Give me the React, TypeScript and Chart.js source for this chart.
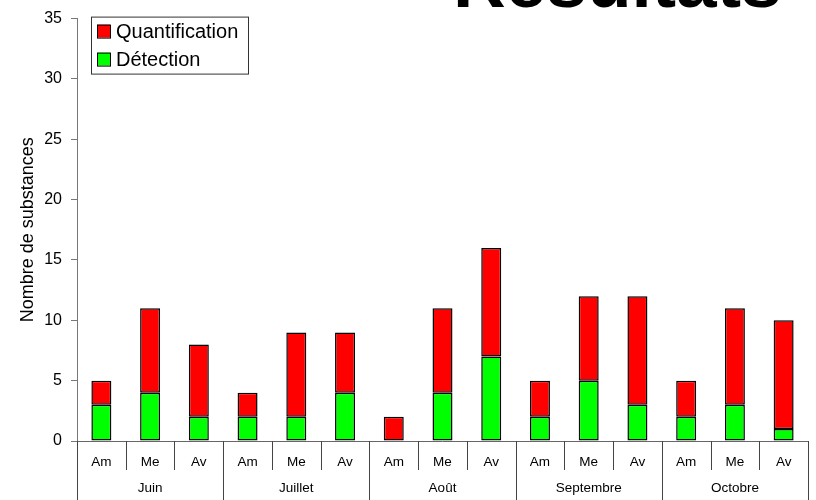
import React, { useEffect, useRef } from "react";
import { Chart, registerables } from "chart.js";

Chart.register(...registerables);

const months = ["Juin", "Juillet", "Août", "Septembre", "Octobre"];
const periods = ["Am", "Me", "Av"];
const categories = months.flatMap((m) => periods.map((p) => `${m} ${p}`));
const detection = [3, 4, 2, 2, 2, 4, 0, 4, 7, 2, 5, 3, 2, 3, 1];
const quantification = [2, 7, 6, 2, 7, 5, 2, 7, 9, 3, 7, 9, 3, 8, 9];
const yTicksMax = 35;
const yStep = 5;
const titleText = "Résultats";
const yTitle = "Nombre de substances";

const FONT = "'Liberation Sans', Arial, Helvetica, sans-serif";

const customPlugin = {
  id: "customDraw",
  afterDraw(chart: any) {
    const ctx = chart.ctx as CanvasRenderingContext2D;
    const xs = chart.scales.x;
    const area = chart.chartArea;
    const n = categories.length;
    const H = chart.height;
    const bound = (i: number) => {
      if (i <= 0) return area.left;
      if (i >= n) return area.right;
      return (xs.getPixelForValue(i - 1) + xs.getPixelForValue(i)) / 2;
    };
    ctx.save();
    // x axis line
    ctx.strokeStyle = "#666";
    ctx.lineWidth = 1;
    ctx.beginPath();
    ctx.moveTo(area.left, Math.round(area.bottom) + 0.5);
    ctx.lineTo(area.right, Math.round(area.bottom) + 0.5);
    ctx.stroke();
    // separators
    for (let i = 0; i <= n; i++) {
      const x = Math.round(bound(i)) + 0.5;
      const isMonth = i % periods.length === 0;
      ctx.strokeStyle = "#444";
      ctx.beginPath();
      ctx.moveTo(x, area.bottom);
      ctx.lineTo(x, isMonth ? H : area.bottom + 29);
      ctx.stroke();
    }
    // sub labels
    ctx.fillStyle = "#000";
    ctx.textAlign = "center";
    ctx.textBaseline = "middle";
    ctx.font = `13.5px ${FONT}`;
    for (let i = 0; i < n; i++) {
      ctx.fillText(periods[i % periods.length], xs.getPixelForValue(i), area.bottom + 21);
    }
    // month labels
    for (let m = 0; m < months.length; m++) {
      const a = bound(m * periods.length);
      const b = bound((m + 1) * periods.length);
      ctx.fillText(months[m], (a + b) / 2, area.bottom + 47);
    }
    // legend
    const ds = chart.data.datasets;
    const items = [ds[1], ds[0]];
    const lx = area.left + 14;
    const ly = area.top - 2;
    const lw = 157;
    const lh = 57;
    ctx.fillStyle = "#fff";
    ctx.fillRect(lx, ly, lw, lh);
    ctx.strokeStyle = "#333";
    ctx.strokeRect(lx + 0.5, ly + 0.5, lw, lh);
    ctx.font = `20px ${FONT}`;
    ctx.textAlign = "left";
    items.forEach((it: any, k: number) => {
      const cy = ly + 15 + k * 28;
      ctx.fillStyle = it.backgroundColor;
      ctx.fillRect(lx + 6, cy - 7, 13, 13);
      ctx.strokeStyle = "#000";
      ctx.strokeRect(lx + 6.5, cy - 6.5, 13, 13);
      ctx.fillStyle = "#000";
      ctx.fillText(it.label, lx + 25, cy + 1);
    });
    // title
    ctx.font = `bold 73px ${FONT}`;
    ctx.textAlign = "left";
    ctx.textBaseline = "alphabetic";
    ctx.fillStyle = "#000";
    ctx.fillText(titleText, 453, 7);
    ctx.restore();
  },
};

export default function App() {
  const ref = useRef<HTMLCanvasElement>(null);
  useEffect(() => {
    if (!ref.current) return;
    const chart = new Chart(ref.current, {
      type: "bar",
      data: {
        labels: categories,
        datasets: [
          {
            label: "Détection",
            data: detection,
            backgroundColor: "#00FF00",
            borderColor: "#000",
            borderWidth: 1.5,
            borderSkipped: false,
          },
          {
            label: "Quantification",
            data: quantification,
            backgroundColor: "#FF0000",
            borderColor: "#000",
            borderWidth: 1.5,
            borderSkipped: false,
          },
        ],
      },
      options: {
        animation: false,
        responsive: false,
        maintainAspectRatio: false,
        layout: { padding: { top: 15, right: 8, bottom: 59, left: 0 } },
        plugins: { legend: { display: false }, tooltip: { enabled: false } },
        datasets: { bar: { categoryPercentage: 1, barPercentage: 0.41 } },
        scales: {
          x: { display: false, stacked: true, offset: true },
          y: {
            stacked: true,
            min: 0,
            max: yTicksMax,
            ticks: {
              stepSize: yStep,
              color: "#000",
              padding: 9,
              font: { family: FONT, size: 16 },
            },
            grid: { drawOnChartArea: false, drawTicks: true, tickLength: 6, color: "#777" },
            border: { color: "#777", width: 1 },
            title: {
              display: true,
              text: yTitle,
              color: "#000",
              font: { family: FONT, size: 18 },
              padding: { top: 17, bottom: 0 },
            },
            afterFit: (s: any) => {
              s.width = 77;
            },
          },
        },
      },
      plugins: [customPlugin],
    });
    return () => chart.destroy();
  }, []);
  return (
    <div style={{ position: "absolute", left: 0, top: 0, width: 816, height: 500, background: "#fff" }}>
      <canvas ref={ref} width={816} height={500} style={{ display: "block" }} />
    </div>
  );
}
